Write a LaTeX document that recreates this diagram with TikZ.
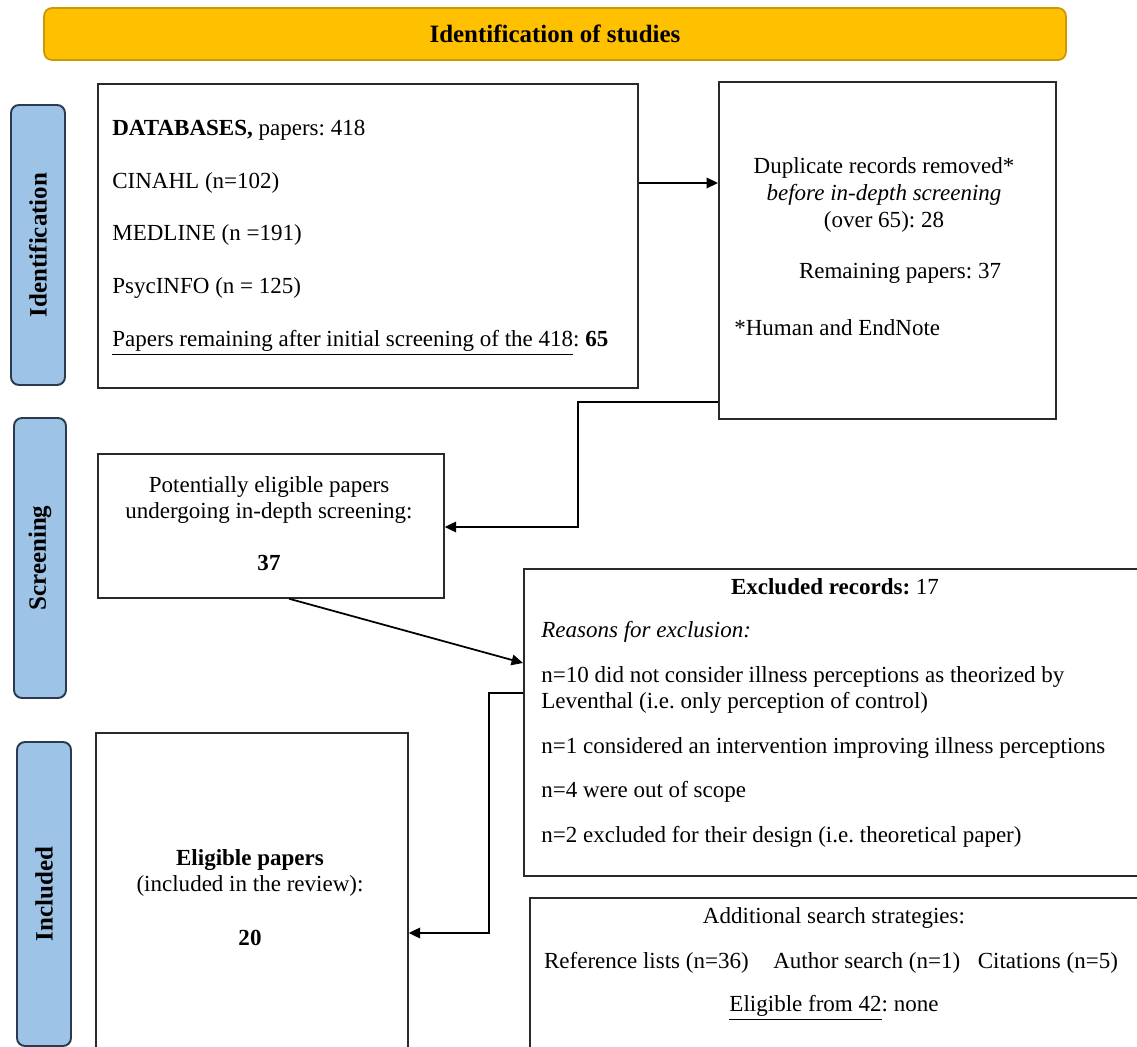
\documentclass[tikz,border=0pt]{standalone}
\usepackage{fontspec}
\setmainfont{Liberation Serif}
\usepackage{xcolor}
\usetikzlibrary{arrows.meta}
\definecolor{IDGold}{HTML}{FFC000}
\definecolor{IDGoldEdge}{HTML}{C99A06}
\definecolor{IDBlue}{HTML}{9DC3E6}
\definecolor{IDBlueEdge}{HTML}{2B3A4E}
\definecolor{IDLine}{HTML}{2A2A2A}
\frenchspacing

\begin{document}
\begin{tikzpicture}[x=0.02cm,y=-0.02cm,
  box/.style={draw=IDLine,line width=1pt,anchor=north west,inner sep=0pt},
  phase/.style={draw=IDBlueEdge,fill=IDBlue,line width=1.1pt,rounded corners=4.5pt,rotate=90,inner sep=0pt,font=\fontsize{14.2}{16}\selectfont\bfseries},
  txt/.style={inner sep=0pt,font=\fontsize{13.1}{14.4}\selectfont},
  link/.style={draw=black,line width=1pt,-{Triangle[length=6.5pt,width=6pt]}}]
\useasboundingbox (0,0) rectangle (1137,1047);
\clip (0,0) rectangle (1137,1047);
\node[draw=IDGoldEdge,fill=IDGold,line width=1pt,rounded corners=4.5pt,minimum width=20.44cm,minimum height=1.04cm,font=\fontsize{14.2}{16}\selectfont\bfseries] (head) at (555,34) {Identification of studies};
\node[phase,minimum width=5.6cm,minimum height=1.08cm] (idbar) at (38,245) {Identification};
\node[phase,minimum width=5.6cm,minimum height=1.04cm] (scrbar) at (40,558) {Screening};
\node[phase,minimum width=6.08cm,minimum height=1.08cm] (incbar) at (44,894) {Included};
\node[box,minimum width=10.8cm,minimum height=6.08cm] (db) at (97,83) {};
\node[box,minimum width=6.74cm,minimum height=6.74cm] (dup) at (718,81) {};
\node[box,minimum width=6.92cm,minimum height=2.88cm] (pot) at (97,453) {};
\node[box,minimum width=12.54cm,minimum height=6.14cm] (excl) at (523,568) {};
\node[box,minimum width=6.24cm,minimum height=6.56cm] (elig) at (95,732) {};
\node[box,minimum width=12.42cm,minimum height=3.26cm] (add) at (529,897) {};
\node[txt,anchor=west] (dbhead) at (112,130) {\textbf{DATABASES,} papers: 418};
\node[txt,anchor=west] (cinahl) at (112,183) {CINAHL (n=102)};
\node[txt,anchor=west] (medline) at (112,235) {MEDLINE (n =191)};
\node[txt,anchor=west] (psyc) at (112,288) {PsycINFO (n = 125)};
\node[txt,anchor=west] (remain) at (112,343) {\underline{Papers remaining after initial screening of the 418}: \textbf{65}};
\node[txt,align=center,font=\fontsize{13.1}{15.4}\selectfont] (duptxt) at (884,195) {Duplicate records removed*\\\textit{before in-depth screening}\\(over 65): 28};
\node[txt] (duprem) at (900,273) {Remaining papers: 37};
\node[txt,anchor=west] (dupnote) at (734,328) {*Human and EndNote};
\node[txt,align=center] (pottxt) at (269,500) {Potentially eligible papers\\undergoing in-depth screening:};
\node[txt] (potnum) at (269,563) {\textbf{37}};
\node[txt] (exhead) at (835,587) {\textbf{Excluded records:} 17};
\node[txt,anchor=west] (exwhy) at (541,632) {\textit{Reasons for exclusion:}};
\node[txt,anchor=west,align=left] (exa) at (541,690) {n=10 did not consider illness perceptions as theorized by\\Leventhal (i.e. only perception of control)};
\node[txt,anchor=west] (exb) at (541,748) {n=1 considered an intervention improving illness perceptions};
\node[txt,anchor=west] (exc) at (541,792) {n=4 were out of scope};
\node[txt,anchor=west] (exd) at (541,837) {n=2 excluded for their design (i.e. theoretical paper)};
\node[txt,align=center] (eligtxt) at (250,873) {\textbf{Eligible papers}\\(included in the review):};
\node[txt] (elignum) at (250,938) {\textbf{20}};
\node[txt] (addhead) at (834,918) {Additional search strategies:};
\node[txt] (addlist) at (831,963) {Reference lists (n=36)\hspace{14pt}Author search (n=1)\hspace{10pt}Citations (n=5)};
\node[txt] (addres) at (834,1008) {\underline{Eligible from 42}: none};
\coordinate (r1) at (0,183);
\coordinate (r2) at (578,402);
\coordinate (r3) at (578,527);
\coordinate (r4) at (289,0);
\coordinate (r5) at (0,663);
\coordinate (r6) at (489,693);
\coordinate (r7) at (489,933);
\draw[link] (db.east |- r1) -- (dup.west |- r1);
\draw[link] (dup.west |- r2) -- (r2) -- (r3) -- (pot.east |- r3);
\draw[link] (pot.south -| r4) -- (excl.west |- r5);
\draw[link] (excl.west |- r6) -- (r6) -- (r7) -- (elig.east |- r7);
\end{tikzpicture}
\end{document}
